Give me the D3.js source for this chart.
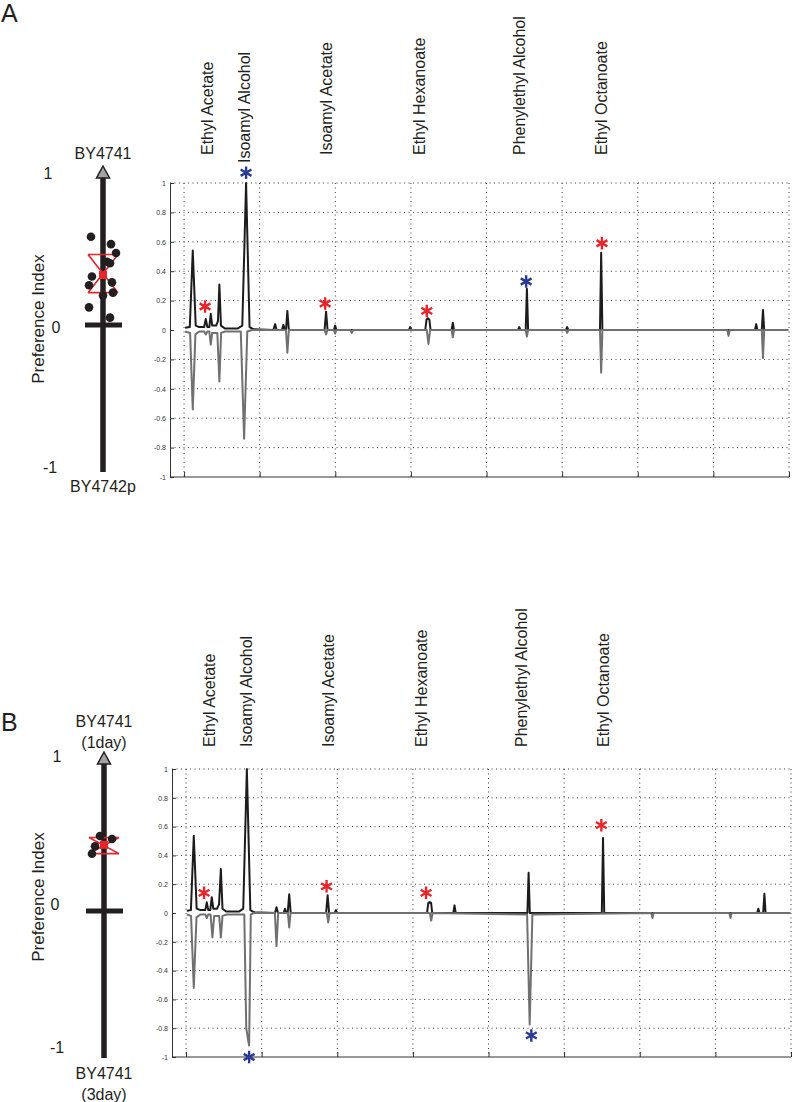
<!DOCTYPE html>
<html>
<head>
<meta charset="utf-8">
<script src="https://cdn.jsdelivr.net/npm/d3@7"></script>
<style>
  body { margin: 0; background: #fff; }
  svg { display: block; font-family: "Liberation Sans", Arial, sans-serif; }
</style>
</head>
<body>
<svg width="792" height="1102"></svg>
<script>
// compounds and their retention times (min)
const compounds = ["Ethyl Acetate", "Isoamyl Alcohol", "Isoamyl Acetate", "Ethyl Hexanoate", "Phenylethyl Alcohol", "Ethyl Octanoate"];
const compoundTimes = [6.6, 9.05, 14.45, 20.6, 27.2, 32.65];

const yTicks = [-1, -0.8, -0.6, -0.4, -0.2, 0, 0.2, 0.4, 0.6, 0.8, 1];
const xTicks = [5, 10, 15, 20, 25, 30, 35, 40, 45];

// preference index, panel A (BY4741 vs BY4742p)
const prefA = [0.60, 0.55, 0.49, 0.42, 0.43, 0.33, 0.27, 0.29, 0.20, 0.22, 0.12, 0.05];
const jitterA = [-0.86, 0.57, 0.93, 0.5, 0.29, -0.79, -1, 0.64, 0, 0.71, -1, 0.5];
const meanA = 0.34, errA = [0.22, 0.48];

// preference index, panel B (1 day vs 3 day)
const prefB = [0.51, 0.49, 0.44, 0.39];
const jitterB = [-0.29, 0.57, -0.64, -0.86];
const meanB = 0.45, errB = [0.39, 0.50];

// chromatograms [time, relative intensity]
const blackA = [[5.07,0.015],[5.38,0.02],[5.575,0.54],[5.77,0.03],[6.0,0.02],[6.33,0.02],[6.435,0.075],[6.54,0.02],[6.67,0.02],[6.766,0.11],[6.86,0.03],[7.12,0.03],[7.24,0.06],[7.335,0.31],[7.44,0.03],[7.7,0.01],[8.55,0.01],[8.85,0.03],[9.10,1.0],[9.33,0.02],[9.6,0.005],[10.9,0],[11.02,0.04],[11.12,0],[11.47,0],[11.57,0.035],[11.66,0],[11.74,0],[11.83,0.13],[11.93,0],[14.29,0],[14.39,0.125],[14.49,0],[14.91,0],[14.99,0.03],[15.07,0],[19.87,0],[19.95,0.02],[20.03,0],[20.95,0],[21.03,0.07],[21.12,0.08],[21.22,0.07],[21.3,0],[22.69,0],[22.77,0.05],[22.85,0],[27.08,0],[27.16,0.02],[27.24,0],[27.59,0],[27.67,0.28],[27.75,0],[30.25,0],[30.33,0.02],[30.41,0],[32.5,0],[32.58,0.526],[32.66,0],[42.75,0],[42.83,0.04],[42.91,0],[43.2,0],[43.28,0.136],[43.36,0],[44.95,0]];
const grayA = [[5.07,-0.01],[5.40,-0.02],[5.575,-0.54],[5.75,-0.03],[6.0,-0.01],[6.33,-0.01],[6.435,-0.03],[6.54,-0.01],[6.67,-0.01],[6.766,-0.10],[6.86,-0.02],[7.2,-0.02],[7.335,-0.35],[7.45,-0.02],[7.7,-0.01],[8.75,-0.01],[8.97,-0.74],[9.18,-0.01],[9.5,0],[11.74,0],[11.83,-0.155],[11.93,0],[14.3,0],[14.39,-0.03],[14.48,0],[14.91,0],[14.99,-0.025],[15.07,0],[16.0,0],[16.09,-0.02],[16.18,0],[21.05,0],[21.16,-0.095],[21.27,0],[22.69,0],[22.77,-0.05],[22.85,0],[27.59,0],[27.67,-0.045],[27.75,0],[30.25,0],[30.33,-0.02],[30.41,0],[32.5,0],[32.58,-0.29],[32.66,0],[40.92,0],[41.0,-0.04],[41.08,0],[43.2,0],[43.28,-0.19],[43.36,0],[44.95,0]];
const blackB = [[5.05,0.015],[5.32,0.02],[5.51,0.537],[5.7,0.03],[5.95,0.02],[6.27,0.02],[6.37,0.074],[6.47,0.02],[6.6,0.02],[6.70,0.11],[6.8,0.03],[7.05,0.03],[7.18,0.06],[7.30,0.305],[7.41,0.03],[7.65,0.01],[8.5,0.01],[8.78,0.03],[9.02,1.0],[9.25,0.02],[9.5,0.005],[10.88,0],[10.98,0.04],[11.08,0],[11.45,0],[11.54,0.03],[11.63,0],[11.72,0],[11.82,0.13],[11.92,0],[14.26,0],[14.36,0.123],[14.46,0],[14.83,0],[14.91,0.02],[14.99,0],[20.93,0],[21.02,0.07],[21.11,0.076],[21.2,0.07],[21.28,0],[22.67,0],[22.75,0.053],[22.83,0],[27.57,0],[27.65,0.28],[27.73,0],[32.49,0],[32.57,0.52],[32.65,0],[42.76,0],[42.84,0.03],[42.92,0],[43.16,0],[43.24,0.134],[43.32,0],[44.95,0]];
const grayB = [[5.05,-0.01],[5.33,-0.02],[5.51,-0.52],[5.69,-0.03],[5.95,-0.01],[6.27,-0.01],[6.37,-0.035],[6.47,-0.01],[6.62,-0.01],[6.74,-0.17],[6.86,-0.02],[7.19,-0.02],[7.30,-0.17],[7.41,-0.02],[7.7,-0.01],[8.85,-0.01],[8.98,-0.8],[9.1,-0.88],[9.17,-0.92],[9.28,-0.01],[9.5,0],[10.87,0],[10.98,-0.23],[11.09,0],[11.73,0],[11.82,-0.10],[11.91,0],[14.31,0],[14.40,-0.065],[14.49,0],[21.12,0],[21.21,-0.053],[21.3,0],[27.55,-0.01],[27.72,-0.775],[27.9,-0.01],[35.76,0],[35.84,-0.035],[35.92,0],[40.92,0],[41.0,-0.035],[41.08,0],[44.95,0]];

// significance marks [time, value]
const redStarsA = [[6.39,0.16],[14.33,0.18],[21.05,0.13],[32.63,0.59]];
const blueStarsA = [[9.10,1.07],[27.62,0.33]];
const redStarsB = [[6.19,0.14],[14.29,0.185],[20.87,0.14],[32.46,0.61]];
const blueStarsB = [[9.17,-1.0],[27.83,-0.85]];

const svg = d3.select("svg");

const panels = [
  { letter: "A", letterY: 22, topLabel: ["BY4741"], topY: 159, botLabel: ["BY4742p"], botY: 492,
    diagRange: [472, 178], diagX: 103, numY: [[1, 48, -5], [0, 56, 2], [-1, 50, -5]], prefY: 319,
    pref: prefA, jitter: jitterA, mean: meanA, err: errA,
    x0: 170, x1: 789, yTop: 183, yBot: 477, labelBase: 155, labelShift: [0, 8, 0, 0, 0, 0],
    black: blackA, gray: grayA, red: redStarsA, blue: blueStarsA },
  { letter: "B", letterY: 731, topLabel: ["BY4741", "(1day)"], topY: 727, botLabel: ["BY4741", "(3day)"], botY: 1079,
    diagRange: [1058, 764], diagX: 104, numY: [[1, 57, -8], [0, 55, -7], [-1, 57, -11]], prefY: 897,
    pref: prefB, jitter: jitterB, mean: meanB, err: errB,
    x0: 172, x1: 791, yTop: 769, yBot: 1057, labelBase: 747, labelShift: [0, 0, 0, 0, 0, 0],
    black: blackB, gray: grayB, red: redStarsB, blue: blueStarsB }
];

panels.forEach(drawPanel);

function drawPanel(p) {
  const g = svg.append("g");
  const ink = "#231f20";

  g.append("text").attr("x", 1).attr("y", p.letterY)
    .attr("font-size", 25).attr("fill", ink).text(p.letter);

  // ---- preference index diagram ----
  const py = d3.scaleLinear().domain([-1, 1]).range(p.diagRange);
  const jx = d3.scaleLinear().domain([-1, 1]).range([p.diagX - 14, p.diagX + 14]);
  const cx = p.diagX;

  g.append("line").attr("x1", cx).attr("x2", cx).attr("y1", py(1)).attr("y2", py(-1))
    .attr("stroke", ink).attr("stroke-width", 5.5);
  g.append("line").attr("x1", cx - 18).attr("x2", cx + 19).attr("y1", py(0)).attr("y2", py(0))
    .attr("stroke", ink).attr("stroke-width", 5);
  g.append("path")
    .attr("d", `M${cx},${py(1) - 12}L${cx + 6.5},${py(1)}L${cx - 6.5},${py(1)}Z`)
    .attr("fill", "#a3a3a3").attr("stroke", ink).attr("stroke-width", 1.5);

  p.numY.forEach(([v, x, dy]) => {
    g.append("text").attr("x", x).attr("y", py(v) + dy).attr("dy", "0.35em")
      .attr("text-anchor", "middle").attr("font-size", 16).attr("fill", ink)
      .text(v === -1 ? "-1" : v);
  });

  p.topLabel.forEach((t, i) => {
    g.append("text").attr("x", cx).attr("y", p.topY + i * 21).attr("text-anchor", "middle")
      .attr("font-size", 16).attr("fill", ink).text(t);
  });
  p.botLabel.forEach((t, i) => {
    g.append("text").attr("x", cx).attr("y", p.botY + i * 21).attr("text-anchor", "middle")
      .attr("font-size", 16).attr("fill", ink).text(t);
  });

  g.append("text").attr("transform", `translate(44,${p.prefY}) rotate(-90)`)
    .attr("text-anchor", "middle").attr("font-size", 17).attr("fill", ink)
    .text("Preference Index");

  // red error bars (bowtie), under the dots
  const red = "#e8252b";
  const [lo, hi] = p.err;
  const errPath = `M${cx - 15},${py(hi)}L${cx + 15},${py(hi)}` +
    `M${cx - 15},${py(lo)}L${cx + 15},${py(lo)}` +
    `M${cx - 15},${py(hi)}L${cx + 15},${py(lo)}` +
    `M${cx + 15},${py(hi)}L${cx - 15},${py(lo)}`;
  g.append("path").attr("d", errPath).attr("fill", "none")
    .attr("stroke", red).attr("stroke-width", 1.6);

  g.selectAll(".dot").data(p.pref).enter().append("circle")
    .attr("class", "dot")
    .attr("cx", (d, i) => jx(p.jitter[i]))
    .attr("cy", d => py(d))
    .attr("r", 4.3)
    .attr("fill", ink);

  g.append("rect").attr("x", cx - 4).attr("y", py(p.mean) - 4)
    .attr("width", 8).attr("height", 8).attr("fill", red);

  // ---- chromatogram ----
  const x = d3.scaleLinear().domain([4.07, 45]).range([p.x0, p.x1]);
  const y = d3.scaleLinear().domain([-1, 1]).range([p.yBot, p.yTop]);

  const grid = g.append("g").attr("stroke", "#3a3a3a").attr("stroke-width", 1)
    .attr("stroke-dasharray", "1,3.5");
  grid.selectAll(".hg").data(yTicks.filter(d => d > -1 && d !== 0)).enter().append("line")
    .attr("x1", p.x0).attr("x2", p.x1).attr("y1", d => y(d)).attr("y2", d => y(d));
  grid.selectAll(".vg").data(xTicks).enter().append("line")
    .attr("x1", d => x(d)).attr("x2", d => x(d)).attr("y1", p.yTop).attr("y2", p.yBot);

  const yAxis = g.append("g").attr("transform", `translate(${p.x0},0)`)
    .call(d3.axisLeft(y).tickValues(yTicks).tickSize(-4).tickSizeOuter(0).tickPadding(4)
      .tickFormat(d => String(+d.toFixed(1))));
  yAxis.select(".domain").attr("stroke", "#333");
  yAxis.selectAll(".tick line").attr("stroke", "#333");
  yAxis.selectAll("text").attr("font-size", 7).attr("fill", "#333")
    .attr("font-family", "'Liberation Sans', Arial, sans-serif");

  const xAxis = g.append("g").attr("transform", `translate(0,${p.yBot})`)
    .call(d3.axisBottom(x).tickValues(xTicks).tickSize(-5).tickSizeOuter(0).tickFormat(""));
  xAxis.select(".domain").attr("stroke", "#333").attr("d", `M${p.x0},0H${p.x1}`);
  xAxis.selectAll(".tick line").attr("stroke", "#333");

  const line = d3.line().x(d => x(d[0])).y(d => y(d[1]));
  g.append("path").datum(p.black).attr("d", line).attr("fill", "none")
    .attr("stroke", "#1c1c1c").attr("stroke-width", 2).attr("stroke-linejoin", "round");
  g.append("path").datum(p.gray).attr("d", line).attr("fill", "none")
    .attr("stroke", "#707070").attr("stroke-width", 2).attr("stroke-linejoin", "round");

  const star = d3.symbol(d3.symbolAsterisk, 110);
  g.selectAll(".rs").data(p.red).enter().append("path")
    .attr("d", star).attr("transform", d => `translate(${x(d[0])},${y(d[1])})`)
    .attr("fill", "none").attr("stroke", red).attr("stroke-width", 2.4);
  g.selectAll(".bs").data(p.blue).enter().append("path")
    .attr("d", star).attr("transform", d => `translate(${x(d[0])},${y(d[1])})`)
    .attr("fill", "none").attr("stroke", "#2a3a94").attr("stroke-width", 2.4);

  // compound names
  g.selectAll(".cmp").data(compounds).enter().append("text")
    .attr("transform", (d, i) => `translate(${x(compoundTimes[i]) + 5},${p.labelBase + p.labelShift[i]}) rotate(-90)`)
    .attr("font-size", 16).attr("fill", ink)
    .text(d => d);
}
</script>
</body>
</html>
